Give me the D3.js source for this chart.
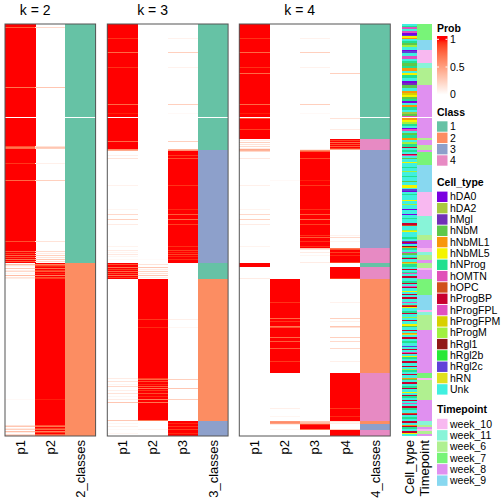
<!DOCTYPE html>
<html><head><meta charset="utf-8">
<script src="https://cdn.jsdelivr.net/npm/d3@7/dist/d3.min.js"></script>
<style>body{margin:0;background:#fff} text{font-family:"Liberation Sans",Arial,Helvetica,sans-serif;fill:#000}</style>
</head><body><svg id="c" width="504" height="504"></svg>
<script>
// ---------------- data ----------------
const nRows = 412;
const kValues = [2, 3, 4];
// class runs: [class, number of rows]; 0 = missing sample
const classRunsK2 = [[1,93],[0,1],[1,145],[2,173]];
const classRunsK3 = [[1,93],[0,1],[1,32],[3,113],[1,16],[2,142],[3,15]];
const classRunsK4 = [[1,93],[0,1],[1,21],[4,11],[3,98],[4,15],[1,4],[4,12],[2,94],[4,48],[2,3],[3,6],[4,6]];
// membership probability rows that differ from a clean 1/0 assignment
const devK2 = [[3,0.8],[63,0.7],[122,0.85],[123,0.7],[124,0.75],[139,0.92],[156,0.75],[217,0.85],
  [227,0.8],[229,0.9],[231,0.75],[233,0.85],[235,0.7],[237,0.8],
  [240,0.35],[241,0.15],[242,0.05],[244,0.3],[246,0.1],[247,0.2],[249,0.05],[251,0.35],[253,0.15],[254,0.1],
  [375,0.03],[401,0.15],[402,0.3],[404,0.1],[405,0.25],[407,0.35],[408,0.1],[410,0.2],[411,0.3]];
const devK3 = [[14,0.93,0,0.07],[28,0.75,0,0.25],[43,0.93,0,0.07],[80,0.75,0,0.25],[89,0.97,0,0.03],[117,0.75,0,0.25],
  [125,0.6,0,0.4],[126,0.45,0,0.55],[131,0.08,0,0.92],[134,0.15,0,0.85],[161,0.07,0,0.93],[185,0.05,0,0.95],
  [190,0.2,0,0.8],[195,0.25,0,0.75],[200,0.1,0,0.9],[222,0.06,0,0.94],[226,0.1,0,0.9],[228,0.05,0,0.95],
  [230,0.12,0,0.88],[232,0.05,0,0.95],[235,0.04,0.02,0.94],
  [240,0.85,0.15,0],[243,0.7,0.3,0],[245,0.9,0.1,0],[247,0.75,0.25,0],[249,0.85,0.15,0],[251,0.7,0.3,0],[253,0.9,0.1,0],
  [295,0,0.92,0.08],[303,0,0.95,0.05],[354,0.1,0.9,0],[355,0,0.75,0.25],[357,0.15,0.85,0],[360,0.05,0.95,0],
  [362,0.2,0.8,0],[364,0,0.7,0.3],[366,0.08,0.92,0],[369,0.15,0.85,0],[372,0.05,0.95,0],[375,0.1,0.65,0.25],
  [378,0.3,0.7,0],[396,0.3,0.7,0],[399,0.05,0,0.95],[402,0.08,0,0.92],[405,0.03,0.07,0.9],[409,0.05,0,0.95]];
const devK4 = [[14,0.93,0,0.07,0],[28,0.75,0,0.25,0],[43,0.93,0,0.07,0],[49,0.75,0,0,0.25],[80,0.75,0,0.25,0],
  [89,0.97,0,0.03,0],[94,0.85,0,0,0.15],[105,0.9,0,0,0.1],
  [116,0.1,0,0,0.9],[118,0.25,0,0,0.75],[120,0.15,0,0,0.85],[122,0.2,0,0,0.8],[124,0.1,0,0,0.9],
  [125,0.45,0,0.1,0.45],[126,0.4,0,0.6,0],[127,0.2,0,0.8,0],
  [134,0.12,0,0.88,0],[156,0,0.03,0.97,0],[161,0.08,0,0.92,0],[185,0.06,0,0.94,0],[190,0.2,0,0.8,0],
  [195,0.25,0,0.75,0],[200,0.1,0,0.9,0],[211,0,0,0.93,0.07],[213,0,0,0.8,0.2],[217,0,0,0.93,0.07],[222,0.06,0,0.94,0],
  [224,0,0,0.3,0.7],[225,0,0,0.15,0.85],[228,0,0,0.1,0.9],[231,0,0,0.05,0.95],[238,0,0,0.1,0.9],[254,0.1,0,0,0.9],
  [278,0,0.93,0,0.07],[294,0,0.75,0,0.25],[297,0,0.92,0,0.08],[302,0,0.7,0,0.3],[303,0,0.85,0,0.15],
  [313,0,0.75,0,0.25],[317,0,0.8,0,0.2],[324,0,0.8,0,0.2],[337,0,0.92,0,0.08],
  [384,0,0.08,0,0.92],[392,0,0.05,0,0.95],
  [397,0,0.55,0.3,0.15],[398,0,0.6,0.35,0.05],[399,0,0.5,0.4,0.1],[400,0,0.1,0.9,0],[405,0,0.05,0.7,0.25]];

const classNames = ["1","2","3","4"];
const classColors = ["#66C2A5","#FC8D62","#8DA0CB","#E78AC3"];
const cellTypes = ["hDA0","hDA2","hMgl","hNbM","hNbML1","hNbML5","hNProg","hOMTN","hOPC","hProgBP","hProgFPL","hProgFPM","hProgM","hRgl1","hRgl2b","hRgl2c","hRN","Unk"];
const cellTypeCodes = ["A","B","C","D","E","F","G","H","I","J","K","L","M","N","O","P","Q","U"];
const cellTypeColors = ["#7A00E0","#A8C840","#7030B8","#5EC84A","#F8960C","#F4F400","#22E090","#E050B8","#D0501C","#C8002E","#E050C0","#D8D000","#A0F040","#901818","#28E838","#6040D8","#E0E020","#40F0E0"];
const cellTypeRuns = "U2 G1 H2 U2 K2 A2 P1 F2 E1 U2 G2 D2 M2 U3 A1 P2 U3 K3 U2 G2 D3 G2 E3 U2 F2 G3 U3 A2 C2 D3 U3 E2 L2 F2 D2 G2 A2 U2 E2 G3 U2 B2 D2 H1 X1 " +
  "E2 F2 M2 G2 U2 A1 H2 U2 D2 G3 E2 U2 M2 G3 J1 U2 " +
  "G2 U2 J1 H1 U2 D1 U3 F1 U4 G1 U3 M1 U4 G1 U4 D1 U3 F3 U1 P2 A1 U2 G1 U5 F1 U3 M1 U4 A1 U4 A1 U3 G1 U4 J2 I1 U4 M1 F1 U5 G2 " +
  "U2 C1 J1 A1 U2 N1 E1 G2 U2 K1 D2 U2 G1 J1 U3 E1 M1 G3 U2 J1 U2 G1 K1 U2 J2 U3 G2 J1 U2 K1 J1 U3 F1 U2 J1 U2 J2 U3 H1 U2 I1 J1 F1 U3 G2 J1 U3 M1 U2 J1 U3 F2 D1 U3 J1 U2 E1 Q1 U2 J2 U2 G2 U3 P1 U2 J1 U2 K1 J1 U2 F1 G2 U2 J2 U3 J1 U2 M1 G2 U2 J1 U3 E1 D1 U2 J2 U2 G2 J1 U3 F1 U2 J1 G2 U2 J1 U2 K1 U2 J2 G2 U3 I1 J1 U2 G2 U2 J2 U2 E1 J1 G2 U2 J2 F1 U2";
const timepoints = ["week_10","week_11","week_6","week_7","week_8","week_9"];
const timepointColors = ["#F8B8F0","#88F4D8","#B0F090","#78F478","#E090F0","#88D8F0"];
const timepointRuns = [["week_7",16],["week_9",10],["week_10",13],["week_11",5],["week_6",17],["week_8",32],[null,1],
  ["week_8",20],["week_6",2],["week_8",5],["week_6",5],["week_8",2],["week_7",13],["week_9",27],["week_10",24],
  ["week_11",19],["week_6",5],["week_8",8],["week_10",4],["week_11",3],["week_6",5],["week_8",3],["week_6",5],
  ["week_10",2],["week_8",9],["week_7",16],["week_9",15],["week_10",2],["week_11",3],["week_6",15],["week_8",43],
  ["week_7",5],["week_10",2],["week_6",20],["week_8",21],["week_11",4],["week_6",2],["week_8",2],["week_10",2],
  ["week_6",3],["week_8",2]];
const probTicks = [0, 0.5, 1];

// ---------------- build ----------------
function expand(runs){ const out=[]; runs.forEach(([v,n])=>{for(let i=0;i<n;i++) out.push(v);}); return out; }
function buildProbs(k, runs, dev){
  const cls = expand(runs);
  const P = cls.map(c => d3.range(k).map(j => c === j+1 ? 1 : 0));
  dev.forEach(d => { const r=d[0]; P[r] = (k===2) ? [d[1], 1-d[1]] : d.slice(1); });
  return {cls, P};
}
const panels = [
  {k:2, ...buildProbs(2, classRunsK2, devK2), x0:5},
  {k:3, ...buildProbs(3, classRunsK3, devK3), x0:107.3},
  {k:4, ...buildProbs(4, classRunsK4, devK4), x0:239.3}
];
const cellSeq = expand(cellTypeRuns.trim().split(/\s+/).map(s => [s[0], +s.slice(1)]));
const timeSeq = expand(timepointRuns);

const svg = d3.select("#c");
const y = d3.scaleBand().domain(d3.range(nRows)).range([24, 436]);
const probColor = d3.scaleLinear().domain([0,1]).range(["#FFFFFF","#FF0000"]).interpolate(d3.interpolateLab);
const classColor = d3.scaleOrdinal().domain([1,2,3,4]).range(classColors);
const colW = 30.2;

panels.forEach(p => {
  const cols = d3.range(p.k).map(j => "p"+(j+1)).concat([p.k+"_classes"]);
  const x = d3.scaleBand().domain(cols).range([p.x0, p.x0 + colW*cols.length]);
  const g = svg.append("g").attr("shape-rendering","crispEdges");
  for (let r=0; r<nRows; r++){
    if (p.cls[r] === 0) continue;
    for (let j=0; j<p.k; j++){
      const v = p.P[r][j];
      if (v <= 0.001) continue;
      g.append("rect").attr("x", x(cols[j])).attr("y", y(r)).attr("width", x.bandwidth()+0.5).attr("height", y.bandwidth())
        .attr("fill", probColor(v));
    }
    g.append("rect").attr("x", x(cols[p.k])).attr("y", y(r)).attr("width", x.bandwidth()).attr("height", y.bandwidth())
      .attr("fill", classColor(p.cls[r]));
  }
  svg.append("rect").attr("x", x.range()[0]).attr("y", 24).attr("width", x.range()[1]-x.range()[0]).attr("height", 412)
    .attr("fill","none").attr("stroke","#555").attr("stroke-width",1);
  // title over probability columns
  svg.append("text").attr("x", (x(cols[0]) + x(cols[p.k])) / 2).attr("y", 15).attr("text-anchor","middle")
    .attr("font-size", 14).text("k = " + p.k);
  const ax = svg.append("g").attr("transform","translate(0,436)").call(d3.axisBottom(x).tickSize(0));
  ax.select(".domain").remove();
  ax.selectAll("text").attr("font-size",13).attr("font-family",'"Liberation Sans",Arial,sans-serif')
    .attr("transform","rotate(-90)").attr("text-anchor","end").attr("x",-4).attr("y",0).attr("dy","0.35em");
});

// annotations
const ax2 = d3.scaleBand().domain(["Cell_type","Timepoint"]).range([402, 432]).paddingInner(0.05);
const ctColor = d3.scaleOrdinal().domain(cellTypeCodes).range(cellTypeColors);
const tpColor = d3.scaleOrdinal().domain(timepoints).range(timepointColors);
const ga = svg.append("g").attr("shape-rendering","crispEdges");
for (let r=0; r<nRows; r++){
  if (cellSeq[r] !== "X") ga.append("rect").attr("x", ax2("Cell_type")).attr("y", y(r)).attr("width", ax2.bandwidth()).attr("height", y.bandwidth()).attr("fill", ctColor(cellSeq[r]));
  if (timeSeq[r]) ga.append("rect").attr("x", ax2("Timepoint")).attr("y", y(r)).attr("width", ax2.bandwidth()).attr("height", y.bandwidth()).attr("fill", tpColor(timeSeq[r]));
}
const axA = svg.append("g").attr("transform","translate(0,436)").call(d3.axisBottom(ax2).tickSize(0));
axA.select(".domain").remove();
axA.selectAll("text").attr("font-size",13).attr("font-family",'"Liberation Sans",Arial,sans-serif')
  .attr("transform","rotate(-90)").attr("text-anchor","end").attr("x",-4).attr("y",0).attr("dy","0.35em");

// ---------------- legends ----------------
const lx = 437, boxW = 10.5, step = 11.33, tx = 450;
const L = svg.append("g").attr("font-size",10.5);
function title(t, yc){ L.append("text").attr("x", lx).attr("y", yc).attr("dy","0.35em").attr("font-weight","bold").text(t); }
// Prob
title("Prob", 28.5);
const pScale = d3.scaleLinear().domain([0,1]).range([94.7, 39.3]);
const barTop = 36, barBot = 98;
const grad = svg.append("defs").append("linearGradient").attr("id","pg").attr("x1",0).attr("x2",0).attr("y1",0).attr("y2",1);
d3.range(0, 1.0001, 0.05).reverse().forEach(v => {
  grad.append("stop").attr("offset", (pScale(v)-barTop)/(barBot-barTop)).attr("stop-color", probColor(v));
});
L.append("rect").attr("x", lx).attr("y", barTop).attr("width", boxW).attr("height", barBot-barTop).attr("fill","url(#pg)");
probTicks.forEach(v => {
  L.append("line").attr("x1", lx).attr("x2", lx+2).attr("y1", pScale(v)).attr("y2", pScale(v)).attr("stroke","#fff");
  L.append("line").attr("x1", lx+boxW-2).attr("x2", lx+boxW).attr("y1", pScale(v)).attr("y2", pScale(v)).attr("stroke","#fff");
  L.append("text").attr("x", tx).attr("y", pScale(v)).attr("dy","0.35em").text(v);
});
function discrete(t, ty, names, colors){
  title(t, ty);
  names.forEach((n,i) => {
    const yc = ty + 14.5 + i*step;
    L.append("rect").attr("x", lx).attr("y", yc - 5.2).attr("width", boxW).attr("height", 10.4).attr("fill", colors[i]);
    L.append("text").attr("x", tx).attr("y", yc).attr("dy","0.35em").text(n);
  });
}
discrete("Class", 112, classNames, classColors);
discrete("Cell_type", 182.3, cellTypes, cellTypeColors);
discrete("Timepoint", 409.5, timepoints, timepointColors);
</script></body></html>
